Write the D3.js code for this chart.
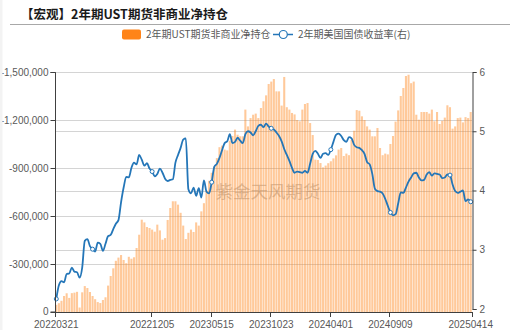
<!DOCTYPE html>
<html><head><meta charset="utf-8">
<script src="https://cdn.jsdelivr.net/npm/d3@7/dist/d3.min.js"></script>
<style>
body{margin:0;background:#fff;}
svg{display:block;font-family:"Noto Sans CJK SC","Noto Sans",sans-serif;}
</style>
</head><body>
<svg id="chart" width="510" height="330"></svg>
<script>
// ---------- data ----------
const titleText = "【宏观】2年期UST期货非商业净持仓";
const barSeriesName = "2年期UST期货非商业净持仓";
const lineSeriesName = "2年期美国国债收益率(右)";
const watermark = "紫金天风期货";
const firstWeek = "20220321";     // weekly categories (Mondays)
const weekCount = 161;
const tickLabels = ["20220321","20221205","20230515","20231023","20240401","20240909","20250414"];
const markerDates = ["20220321","20220627","20221205","20230515","20231023","20240401","20240909","20250217","20250414"];
const leftTicks = [0,-300000,-600000,-900000,-1200000,-1500000];
const leftTickLabels = ["0","-300,000","-600,000","-900,000","-1,200,000","-1,500,000"];
const rightTicks = [2,3,4,5,6];

// net non-commercial positions (contracts)
const netPositions = [
 -45000,-55000,-70000,-100000,-117000,-88000,-118000,-121000,-126000,-28000,
 -123000,-162000,-150000,-125000,-100000,-80000,-62000,-56000,-75000,-92000,
 -165000,-225000,-273000,-320000,-340000,-356000,-325000,-305000,-345000,-333000,
 -342000,-400000,-483000,-577000,-560000,-531000,-525000,-515000,-502000,-546000,
 -510000,-452000,-462000,-575000,-650000,-692000,-692000,-671000,-620000,-540000,
 -456000,-495000,-515000,-500000,-560000,-540000,-629000,-680000,-760000,-820000,
 -870000,-910000,-962000,-1030000,-1040000,-1015000,-1010000,-1070000,-1100000,-1140000,
 -1108000,-1098000,-1098000,-1265000,-1160000,-1212000,-1233000,-1240000,-1212000,-1275000,
 -1317000,-1354000,-1425000,-1440000,-1456000,-1379000,-1379000,-1290000,-1469000,-1280000,
 -1265000,-1244000,-1235000,-1200000,-1192000,-1265000,-1300000,-1306000,-1181000,-1106000,
 -952000,-950000,-931000,-904000,-915000,-930000,-942000,-960000,-979000,-1015000,
 -1025000,-975000,-990000,-980000,-1075000,-1133000,-1262000,-1258000,-1223000,-1200000,
 -1160000,-1140000,-1098000,-1098000,-1150000,-1025000,-980000,-990000,-985000,-1050000,
 -1100000,-1190000,-1260000,-1350000,-1400000,-1475000,-1483000,-1430000,-1440000,-1233000,
 -1202000,-1250000,-1250000,-1250000,-1240000,-1265000,-1192000,-1250000,-1175000,-1195000,
 -1215000,-1292000,-1280000,-1146000,-1160000,-1212000,-1215000,-1185000,-1218000,-1212000,
 -1250000
];

// 2Y US Treasury yield (%)
const yields = [
 2.17,2.40,2.47,2.45,2.59,2.60,2.70,2.63,2.62,2.53,
 2.70,3.15,3.18,3.06,3.01,2.97,3.12,3.10,2.98,3.10,
 3.23,3.25,3.35,3.44,3.50,3.80,4.05,4.23,4.22,4.38,
 4.47,4.44,4.60,4.52,4.42,4.46,4.37,4.32,4.24,4.28,
 4.37,4.30,4.20,4.16,4.18,4.19,4.47,4.60,4.72,4.86,
 4.88,4.02,3.95,4.05,3.91,4.04,3.88,4.17,3.98,3.95,
 4.14,4.40,4.45,4.55,4.68,4.80,4.83,4.95,4.80,4.82,
 4.89,4.84,4.80,4.95,5.00,4.98,4.93,5.00,5.09,5.11,
 5.07,5.13,5.08,5.05,5.03,4.98,4.92,4.83,4.70,4.60,
 4.50,4.38,4.30,4.32,4.31,4.30,4.33,4.30,4.45,4.62,
 4.67,4.62,4.55,4.62,4.63,4.60,4.69,4.82,4.94,4.96,
 4.92,4.85,4.82,4.90,4.88,4.77,4.73,4.72,4.68,4.62,
 4.48,4.44,4.28,4.03,3.99,3.98,3.95,3.86,3.74,3.63,
 3.58,3.60,3.78,3.97,3.96,4.05,4.15,4.22,4.29,4.30,
 4.22,4.17,4.18,4.27,4.31,4.25,4.29,4.28,4.27,4.21,
 4.22,4.27,4.26,4.10,3.99,3.96,3.98,4.00,3.82,3.85,
 3.81
];

// ---------- build ----------
const parse = d3.timeParse("%Y%m%d"), fmtD = d3.timeFormat("%Y%m%d");
const start = parse(firstWeek);
const dates = d3.range(weekCount).map(i => fmtD(d3.timeDay.offset(start, 7 * i)));
const rows = dates.map((d, i) => ({date: d, pos: netPositions[i], y: yields[i]}));

const svg = d3.select("#chart");
const plotL = 55, plotR = 472, plotT = 72, plotB = 312;

const x = d3.scaleBand().domain(dates).range([plotL, plotR]).paddingInner(0.2).paddingOuter(0.1);
const yL = d3.scaleLinear().domain([0, -1500000]).range([plotB, plotT]);
const yR = d3.scaleLinear().domain([2, 6]).range([309, plotT]);
const fmtL = d => leftTickLabels[leftTicks.indexOf(d)];

const axisColor = "#404040", textColor = "#595959", gridColor = "#d4d4d4";
const orange = "#ff8419", blue = "#2476b8";
const numFont = "'Liberation Sans',Arial,sans-serif";

// title
svg.append("text").attr("x", 21).attr("y", 18.5).attr("font-size", 12.5).attr("font-weight", "bold")
  .attr("fill", "#1a1a1a").text(titleText);
svg.append("line").attr("x1", 10).attr("x2", 510).attr("y1", 24.5).attr("y2", 24.5)
  .attr("stroke", "#a8a8a8").attr("stroke-width", 1);

// legend
const lg = svg.append("g");
lg.append("rect").attr("x", 122).attr("y", 29.5).attr("width", 19).attr("height", 10).attr("rx", 2).attr("fill", orange);
lg.append("text").attr("x", 146).attr("y", 38).attr("font-size", 10).attr("fill", textColor).text(barSeriesName);
lg.append("line").attr("x1", 273).attr("x2", 293).attr("y1", 34.5).attr("y2", 34.5).attr("stroke", blue).attr("stroke-width", 1.5);
lg.append("circle").attr("cx", 283.3).attr("cy", 34.5).attr("r", 4).attr("fill", "#fff").attr("stroke", blue).attr("stroke-width", 1.2);
lg.append("text").attr("x", 298).attr("y", 38).attr("font-size", 10).attr("fill", textColor).text(lineSeriesName);

// grid
const g = svg.append("g");
g.selectAll(".gl").data(leftTicks.filter(t => t !== 0)).join("line")
  .attr("x1", plotL).attr("x2", plotR).attr("y1", d => Math.round(yL(d)) + 0.5).attr("y2", d => Math.round(yL(d)) + 0.5)
  .attr("stroke", gridColor).attr("stroke-width", 1);
g.selectAll(".gr").data(rightTicks.filter(t => t !== 2 && t !== 6)).join("line")
  .attr("x1", plotL).attr("x2", plotR).attr("y1", d => Math.round(yR(d)) + 0.5).attr("y2", d => Math.round(yR(d)) + 0.5)
  .attr("stroke", gridColor).attr("stroke-width", 1);

// watermark
svg.append("text").attr("x", 268).attr("y", 198).attr("text-anchor", "middle").attr("font-size", 17.5)
  .attr("fill", "#9a9a9a").attr("fill-opacity", 0.55).text(watermark);

// bars
svg.append("g").selectAll("rect").data(rows).join("rect")
  .attr("x", d => x(d.date)).attr("width", x.bandwidth())
  .attr("y", d => yL(d.pos)).attr("height", d => yL(0) - yL(d.pos))
  .attr("fill", orange).attr("fill-opacity", 0.44);

// line
const line = d3.line().x(d => x(d.date) + x.bandwidth() / 2).y(d => yR(d.y)).curve(d3.curveMonotoneX);
svg.append("path").datum(rows).attr("d", line).attr("fill", "none").attr("stroke", blue).attr("stroke-width", 1.8);
svg.append("g").selectAll("circle").data(rows.filter(d => markerDates.includes(d.date))).join("circle")
  .attr("cx", d => x(d.date) + x.bandwidth() / 2).attr("cy", d => yR(d.y)).attr("r", 2)
  .attr("fill", "#fff").attr("stroke", blue).attr("stroke-width", 1);

// left axis
const la = svg.append("g").attr("transform", `translate(${plotL + 0.5},0)`)
  .call(d3.axisLeft(yL).tickValues(leftTicks).tickFormat(fmtL).tickSize(5).tickPadding(2));
// right axis
const ra = svg.append("g").attr("transform", `translate(${plotR + 0.5},0)`)
  .call(d3.axisRight(yR).tickValues(rightTicks).tickFormat(d3.format("d")).tickSize(4).tickPadding(3));
[la, ra].forEach(a => {
  a.select(".domain").attr("stroke", axisColor);
  a.selectAll(".tick line").attr("stroke", axisColor);
  a.selectAll("text").attr("fill", textColor).attr("font-size", 10).attr("font-family", numFont);
});
la.select(".domain").attr("d", `M-5,${plotT + 0.5}H0V${plotB}H-5`);
la.selectAll(".tick").filter(d => d === 0).select("text").attr("dy", "0.2em");

// bottom axis
const ba = svg.append("g");
ba.append("line").attr("x1", plotL).attr("x2", plotR + 0.5).attr("y1", plotB + 0.5).attr("y2", plotB + 0.5).attr("stroke", axisColor);
const tickPos = d => (d === dates[dates.length - 1] ? plotR : x(d));
ba.selectAll(".xt").data(tickLabels).join("line")
  .attr("x1", d => Math.round(tickPos(d)) + 0.5).attr("x2", d => Math.round(tickPos(d)) + 0.5)
  .attr("y1", plotB).attr("y2", plotB + 5).attr("stroke", axisColor);
ba.selectAll(".xl").data(tickLabels).join("text")
  .attr("x", d => x(d) + x.bandwidth() / 2).attr("y", 327.5).attr("text-anchor", "middle")
  .attr("font-size", 10).attr("font-family", numFont).attr("fill", textColor).text(d => d);

// left edge strip
svg.append("rect").attr("x", 0).attr("y", 0).attr("width", 2.5).attr("height", 330).attr("fill", "#f3f3f3");
</script>
</body></html>
